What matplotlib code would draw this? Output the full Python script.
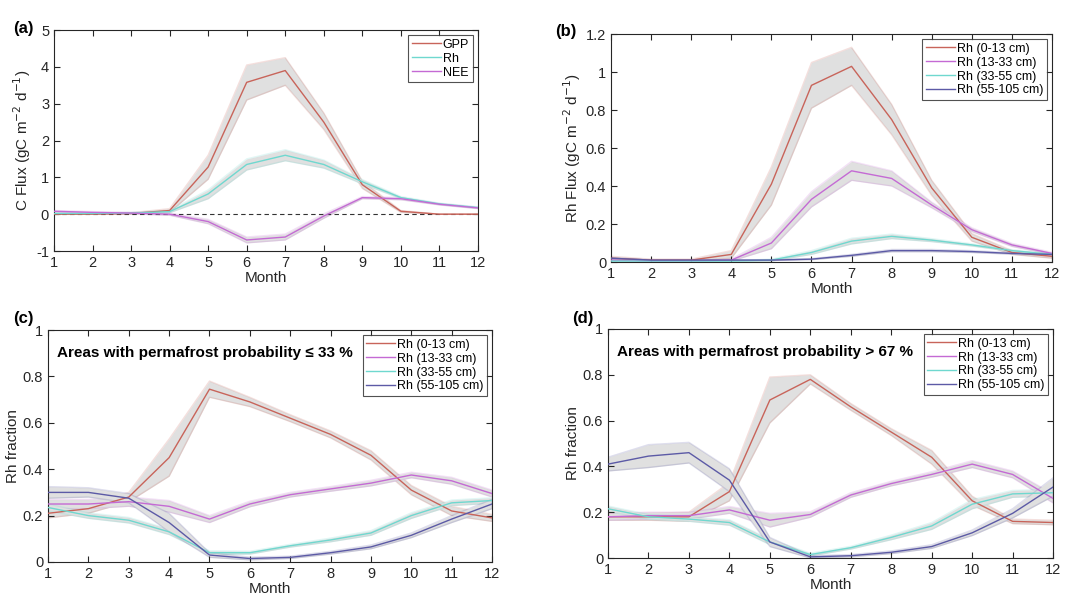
import numpy as np
import matplotlib
matplotlib.use("Agg")
import matplotlib.pyplot as plt

plt.rcParams['font.family'] = ['Liberation Sans', 'DejaVu Sans']

months = np.arange(1, 13)

# (a) carbon fluxes
gpp = [0.0, 0.0, 0.02, 0.1, 1.28, 3.58, 3.9, 2.5, 0.8, 0.08, 0.0, 0.0]
gpp_lo = [0.0, 0.0, 0.0, 0.05, 0.95, 3.1, 3.5, 2.3, 0.7, 0.05, 0.0, 0.0]
gpp_hi = [0.0, 0.0, 0.04, 0.15, 1.6, 4.05, 4.25, 2.75, 0.9, 0.1, 0.0, 0.0]
rh = [0.02, 0.02, 0.03, 0.07, 0.55, 1.35, 1.6, 1.35, 0.88, 0.45, 0.28, 0.18]
rh_lo = [0.0, 0.0, 0.01, 0.04, 0.42, 1.2, 1.45, 1.25, 0.82, 0.42, 0.26, 0.16]
rh_hi = [0.04, 0.04, 0.05, 0.1, 0.66, 1.5, 1.75, 1.47, 0.94, 0.48, 0.3, 0.2]
nee = [0.08, 0.05, 0.03, 0.0, -0.2, -0.7, -0.62, -0.05, 0.45, 0.42, 0.27, 0.17]
nee_sd = [0.02, 0.02, 0.02, 0.03, 0.06, 0.08, 0.08, 0.06, 0.03, 0.03, 0.02, 0.02]

# (b) Rh flux by depth
b_0_13 = [0.02, 0.01, 0.01, 0.04, 0.41, 0.93, 1.03, 0.75, 0.39, 0.13, 0.05, 0.03]
b_0_13_lo = [0.01, 0.005, 0.005, 0.02, 0.3, 0.81, 0.93, 0.67, 0.35, 0.11, 0.04, 0.02]
b_0_13_hi = [0.03, 0.015, 0.015, 0.06, 0.5, 1.05, 1.13, 0.83, 0.43, 0.15, 0.06, 0.04]
b_13_33 = [0.01, 0.005, 0.005, 0.01, 0.1, 0.33, 0.48, 0.44, 0.3, 0.17, 0.09, 0.045]
b_13_33_sd = [0.005, 0.003, 0.003, 0.005, 0.03, 0.04, 0.05, 0.04, 0.015, 0.01, 0.008, 0.006]
b_33_55 = [0.005, 0.005, 0.005, 0.005, 0.01, 0.05, 0.11, 0.135, 0.115, 0.09, 0.06, 0.04]
b_33_55_sd = [0.002, 0.002, 0.002, 0.002, 0.005, 0.01, 0.015, 0.012, 0.008, 0.006, 0.005, 0.004]
b_55_105 = [0.02, 0.01, 0.01, 0.01, 0.01, 0.015, 0.035, 0.06, 0.06, 0.055, 0.045, 0.04]
b_55_105_sd = [0.003, 0.002, 0.002, 0.002, 0.002, 0.003, 0.005, 0.006, 0.006, 0.005, 0.004, 0.004]

# (c) Rh fraction, permafrost probability <= 33 %
c_0_13 = [0.21, 0.23, 0.28, 0.45, 0.745, 0.69, 0.62, 0.55, 0.46, 0.31, 0.22, 0.19]
c_0_13_sd = [0.02, 0.02, 0.02, 0.08, 0.035, 0.02, 0.015, 0.015, 0.02, 0.02, 0.02, 0.015]
c_13_33 = [0.25, 0.25, 0.26, 0.24, 0.185, 0.25, 0.29, 0.315, 0.34, 0.375, 0.35, 0.295]
c_13_33_sd = [0.02, 0.02, 0.02, 0.025, 0.015, 0.012, 0.01, 0.01, 0.012, 0.012, 0.015, 0.015]
c_33_55 = [0.235, 0.2, 0.18, 0.13, 0.04, 0.04, 0.07, 0.095, 0.125, 0.2, 0.255, 0.265]
c_33_55_sd = [0.015, 0.012, 0.012, 0.012, 0.008, 0.006, 0.006, 0.008, 0.01, 0.012, 0.012, 0.012]
c_55_105 = [0.3, 0.3, 0.275, 0.17, 0.03, 0.015, 0.02, 0.04, 0.065, 0.115, 0.185, 0.25]
c_55_105_sd = [0.025, 0.02, 0.02, 0.04, 0.01, 0.006, 0.005, 0.006, 0.008, 0.01, 0.015, 0.02]

# (d) Rh fraction, permafrost probability > 67 %
d_0_13 = [0.18, 0.18, 0.18, 0.29, 0.69, 0.78, 0.66, 0.55, 0.44, 0.25, 0.16, 0.155]
d_0_13_sd = [0.015, 0.015, 0.02, 0.04, 0.1, 0.02, 0.015, 0.015, 0.03, 0.02, 0.01, 0.01]
d_13_33 = [0.18, 0.185, 0.185, 0.21, 0.165, 0.19, 0.275, 0.325, 0.365, 0.41, 0.365, 0.26]
d_13_33_sd = [0.015, 0.015, 0.015, 0.015, 0.03, 0.012, 0.01, 0.01, 0.012, 0.015, 0.015, 0.02]
d_33_55 = [0.215, 0.18, 0.17, 0.155, 0.07, 0.015, 0.045, 0.09, 0.14, 0.235, 0.28, 0.285]
d_33_55_sd = [0.012, 0.01, 0.01, 0.012, 0.012, 0.006, 0.006, 0.01, 0.015, 0.02, 0.015, 0.015]
d_55_105 = [0.41, 0.445, 0.46, 0.34, 0.07, 0.005, 0.01, 0.025, 0.05, 0.11, 0.195, 0.31]
d_55_105_sd = [0.03, 0.05, 0.045, 0.05, 0.02, 0.005, 0.005, 0.006, 0.008, 0.012, 0.02, 0.04]

depth_labels = ['Rh (0-13 cm)', 'Rh (13-33 cm)', 'Rh (33-55 cm)', 'Rh (55-105 cm)']

RED = '#c8645a'
CYAN = '#6fd8cf'
MAGENTA = '#c46ad4'
NAVY = '#5c5aa6'
SHADE = '#e0e0e0'


def band(ax, y, lo, hi, col):
    ax.fill_between(months, lo, hi, color=SHADE, lw=0, zorder=1)
    ax.fill_between(months, lo, hi, facecolor='none', edgecolor=col,
                    lw=1.0, alpha=0.2, zorder=1)
    ax.plot(months, y, color=col, lw=1.0, zorder=3)


def band_sd(ax, y, sd, col, label=None):
    y = np.array(y)
    sd = np.array(sd)
    band(ax, y, y - sd, y + sd, col)
    ax.plot([], [], color=col, lw=1.0, label=label)


def style(ax, ylim, yticks, ylabels, ylab):
    ax.set_xlim(1, 12)
    ax.set_ylim(*ylim)
    ax.set_xticks(months)
    ax.set_yticks(yticks)
    ax.set_yticklabels(ylabels)
    ax.tick_params(direction='in', top=True, right=True, length=4,
                   labelsize=10.5, colors='#262626', width=0.8)
    for s in ax.spines.values():
        s.set_color('#262626')
        s.set_linewidth(0.8)
    ax.set_xlabel('Month', fontsize=11, color='#262626', labelpad=1)
    ax.set_ylabel(ylab, fontsize=11, color='#262626', labelpad=2)


def legend(ax):
    lg = ax.legend(loc='upper right', fontsize=9, frameon=True, fancybox=False,
                   edgecolor='#262626', handlelength=2.3, handletextpad=0.15,
                   labelspacing=0.15, borderpad=0.3, borderaxespad=0.4)
    lg.get_frame().set_linewidth(0.8)


fig = plt.figure(figsize=(10.75, 6.03), dpi=100)

# (a)
ax = fig.add_axes([0.0502, 0.5837, 0.3944, 0.3665])
ax.axhline(0, color='#333333', lw=0.8, ls=(0, (4, 3)), zorder=2)
band(ax, gpp, gpp_lo, gpp_hi, RED)
band(ax, rh, rh_lo, rh_hi, CYAN)
band_sd(ax, nee, nee_sd, MAGENTA)
ax.plot([], [], color=RED, lw=1.0, label='GPP')
ax.plot([], [], color=CYAN, lw=1.0, label='Rh')
ax.plot([], [], color=MAGENTA, lw=1.0, label='NEE')
style(ax, (-1, 5), range(-1, 6), [str(v) for v in range(-1, 6)],
      'C Flux (gC m$^{-2}$ d$^{-1}$)')
legend(ax)
fig.text(0.012, 0.945, '(a)', fontsize=12, fontweight='bold')

frac_ticks = [0, 0.2, 0.4, 0.6, 0.8, 1]
frac_labels = ['0', '0.2', '0.4', '0.6', '0.8', '1']

# (b)
ax = fig.add_axes([0.5684, 0.5655, 0.4102, 0.378])
band(ax, b_0_13, b_0_13_lo, b_0_13_hi, RED)
ax.plot([], [], color=RED, lw=1.0, label=depth_labels[0])
band_sd(ax, b_13_33, b_13_33_sd, MAGENTA, depth_labels[1])
band_sd(ax, b_33_55, b_33_55_sd, CYAN, depth_labels[2])
band_sd(ax, b_55_105, b_55_105_sd, NAVY, depth_labels[3])
style(ax, (0, 1.2), [0, 0.2, 0.4, 0.6, 0.8, 1.0, 1.2],
      ['0', '0.2', '0.4', '0.6', '0.8', '1', '1.2'],
      'Rh Flux (gC m$^{-2}$ d$^{-1}$)')
legend(ax)
fig.text(0.516, 0.94, '(b)', fontsize=12, fontweight='bold')

# (c)
ax = fig.add_axes([0.0447, 0.068, 0.413, 0.3847])
band_sd(ax, c_0_13, c_0_13_sd, RED, depth_labels[0])
band_sd(ax, c_13_33, c_13_33_sd, MAGENTA, depth_labels[1])
band_sd(ax, c_33_55, c_33_55_sd, CYAN, depth_labels[2])
band_sd(ax, c_55_105, c_55_105_sd, NAVY, depth_labels[3])
style(ax, (0, 1), frac_ticks, frac_labels, 'Rh fraction')
legend(ax)
ax.text(0.02, 0.9, 'Areas with permafrost probability ≤ 33 %', transform=ax.transAxes,
        fontsize=11, fontweight='bold', va='center')
fig.text(0.012, 0.465, '(c)', fontsize=12, fontweight='bold')

# (d)
ax = fig.add_axes([0.5656, 0.0746, 0.414, 0.3798])
band_sd(ax, d_0_13, d_0_13_sd, RED, depth_labels[0])
band_sd(ax, d_13_33, d_13_33_sd, MAGENTA, depth_labels[1])
band_sd(ax, d_33_55, d_33_55_sd, CYAN, depth_labels[2])
band_sd(ax, d_55_105, d_55_105_sd, NAVY, depth_labels[3])
style(ax, (0, 1), frac_ticks, frac_labels, 'Rh fraction')
legend(ax)
ax.text(0.02, 0.9, 'Areas with permafrost probability > 67 %', transform=ax.transAxes,
        fontsize=11, fontweight='bold', va='center')
fig.text(0.532, 0.465, '(d)', fontsize=12, fontweight='bold')

fig.savefig('out.png', dpi=100)
